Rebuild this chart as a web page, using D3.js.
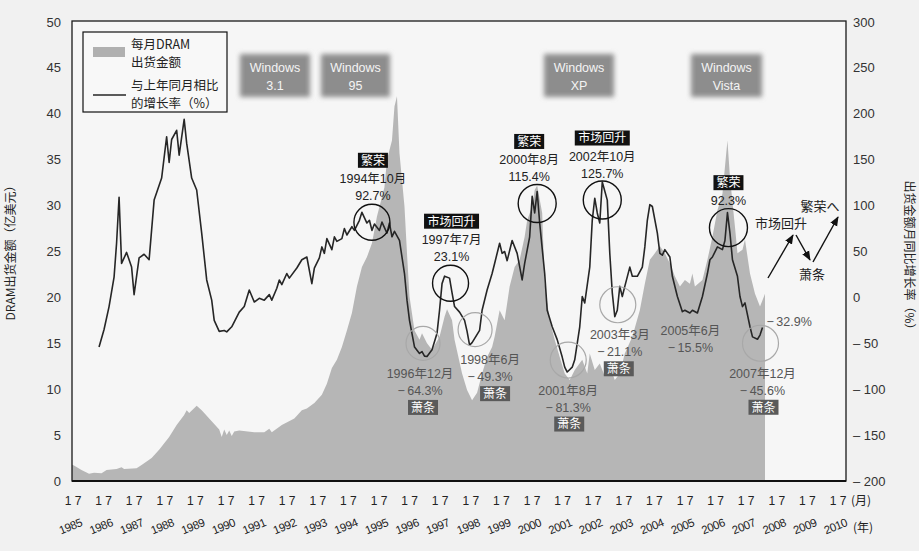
<!DOCTYPE html>
<html>
<head>
<meta charset="utf-8">
<script src="https://cdn.jsdelivr.net/npm/d3@7"></script>
<style>
  body { margin: 0; background: #f1f1f1; }
  svg text { font-family: "Liberation Sans", Arial, "Noto Sans CJK SC", sans-serif; fill: #222; }
  svg text.cjk { font-family: "Noto Sans CJK SC", "Liberation Sans", sans-serif; }
</style>
</head>
<body>
<svg id="chart" width="919" height="551"></svg>
<script>
// monthly DRAM shipments (100M USD)
var shipMonths = ['1985-01','1985-03','1985-06','1985-09','1985-11','1986-02','1986-04','1986-08','1986-10','1986-11',
  '1987-04','1987-06','1987-10','1988-01','1988-05','1988-08','1988-11','1988-12','1989-01','1989-04',
  '1989-06','1989-07','1989-10','1990-01','1990-02','1990-03','1990-04','1990-05','1990-06','1990-07',
  '1990-09','1991-03','1991-07','1991-09','1991-10','1992-02','1992-07','1992-10','1992-12','1993-03',
  '1993-06','1993-08','1993-10','1993-12','1994-02','1994-04','1994-06','1994-08','1994-10','1994-12',
  '1995-02','1995-04','1995-07','1995-08','1995-10','1995-11','1995-12','1996-01','1996-03','1996-04',
  '1996-05','1996-07','1996-09','1996-10','1996-12','1997-02','1997-05','1997-07','1997-08','1997-10',
  '1997-11','1998-02','1998-04','1998-06','1998-08','1998-10','1998-12','1999-02','1999-03','1999-05',
  '1999-07','1999-09','1999-11','2000-01','2000-03','2000-04','2000-06','2000-07','2000-08','2000-10',
  '2000-11','2001-01','2001-03','2001-05','2001-07','2001-09','2001-11','2002-02','2002-04','2002-05',
  '2002-07','2002-09','2002-11','2003-01','2003-03','2003-05','2003-07','2003-10','2004-01','2004-03',
  '2004-05','2004-07','2004-09','2004-11','2005-01','2005-03','2005-05','2005-07','2005-09','2005-10',
  '2005-11','2006-02','2006-04','2006-06','2006-08','2006-10','2006-11','2006-12','2007-01','2007-03',
  '2007-04','2007-06','2007-07','2007-09','2007-11','2008-01','2008-02','2008-03']
var shipValues = [1.9,1.7,1.2,0.8,0.9,0.85,1.2,1.3,1.5,1.3,
  1.4,1.75,2.5,3.4,4.8,6.1,7.2,7.7,7.4,8.2,
  7.7,7.4,6.5,5.6,4.8,5.6,5.0,5.5,4.9,5.4,
  5.5,5.3,5.3,5.7,5.3,6.1,6.8,7.7,7.9,8.5,
  9.4,10.6,12.3,13.2,14.6,16.4,18.3,21.2,23.3,24.4,
  25.9,28.8,32,35,37.1,40.8,41.9,35.7,29.9,24.8,
  20.1,16.4,15.4,16.1,15,14.3,15.7,17.9,18.7,17.5,
  15.4,11.7,9.9,8.8,9.6,11.7,13.5,14.6,15.7,18.6,
  17.5,21.2,23.3,24.1,26.6,28.4,29.9,31.7,32.2,29.2,
  21.5,17.5,15.4,13.5,11.7,11.0,12.1,13.2,11.7,13.9,
  12.1,12.8,11.4,12.5,11.0,11.7,13.9,15.7,18.6,21.5,
  24.1,24.8,25.6,24.8,23.7,22.3,21.2,21.9,21.5,22.6,
  21.2,21.9,24.1,26.6,29.5,31.3,34.2,37.1,33.1,27.7,
  24.8,25.2,26.3,22.6,20.4,19.0,19.7,20.4]

// year-on-year growth (%)
var growthMonths = ['1986-01','1986-03','1986-05','1986-07','1986-08','1986-09','1986-10','1986-12','1987-02','1987-03',
  '1987-05','1987-07','1987-09','1987-11','1988-02','1988-04','1988-05','1988-06','1988-08','1988-09',
  '1988-11','1988-12','1989-02','1989-04','1989-06','1989-08','1989-10','1989-11','1990-01','1990-03',
  '1990-04','1990-06','1990-09','1990-11','1991-01','1991-03','1991-05','1991-07','1991-09','1991-10',
  '1991-12','1992-01','1992-02','1992-04','1992-05','1992-08','1992-10','1992-12','1993-02','1993-03',
  '1993-05','1993-06','1993-07','1993-08','1993-10','1993-11','1993-12','1994-02','1994-03','1994-04',
  '1994-06','1994-07','1994-09','1994-10','1994-12','1995-01','1995-02','1995-03','1995-05','1995-06',
  '1995-08','1995-09','1995-10','1995-11','1996-01','1996-03','1996-04','1996-05','1996-07','1996-09',
  '1996-10','1996-11','1996-12','1997-02','1997-04','1997-05','1997-06','1997-07','1997-09','1997-10',
  '1997-11','1998-01','1998-03','1998-04','1998-05','1998-06','1998-09','1998-10','1998-12','1999-02',
  '1999-03','1999-05','1999-06','1999-07','1999-08','1999-10','1999-12','2000-02','2000-03','2000-05',
  '2000-06','2000-07','2000-08','2000-09','2000-11','2000-12','2001-02','2001-04','2001-06','2001-07',
  '2001-08','2001-10','2001-11','2002-01','2002-02','2002-03','2002-05','2002-06','2002-07','2002-08',
  '2002-09','2002-10','2002-12','2003-01','2003-02','2003-03','2003-04','2003-05','2003-06','2003-07',
  '2003-09','2003-10','2003-12','2004-02','2004-03','2004-04','2004-05','2004-06','2004-08','2004-09',
  '2004-10','2004-11','2005-01','2005-02','2005-04','2005-06','2005-07','2005-09','2005-10','2005-12',
  '2006-02','2006-04','2006-05','2006-06','2006-08','2006-10','2006-11','2006-12','2007-01','2007-02',
  '2007-04','2007-05','2007-06','2007-07','2007-09','2007-10','2007-12','2008-01','2008-02']
var growthValues = [-54,-35,-10,22,59,109,37,49,33,3,
  43,47,41,106,130,175,147,172,182,155,
  194,168,130,117,70,19,-3,-25,-37,-36,
  -37.6,-32,-16,-10,8,-5,-1,-3,3,-3,
  10,19,14,26,21,32,41,44,15,32,
  43,55,48,64,52,66,61,64,75,68,
  77,73,84,92.7,81,84,73,80,73,82,
  70,81,66,72,62,26,-3,-25,-54,-61,
  -59,-64,-64.3,-57,-39,-14,15,23.1,21,5,
  -10,-16,-25,-37,-52,-49.3,-36,-14,8,26,
  37,59,48,50,40,62,48,19,37,66,
  110,92,115.4,81,26,-14,-32,-46,-65,-76,
  -81.3,-76,-68,-32,1,-6,33,84,108,92,
  81,125.7,106,48,5,-21.1,-14,12,1,12,
  33,23,23,33,55,84,101,99,70,48,
  46,52,44,23,1,-15.5,-14,-17,-14,-17,
  1,26,41,44,55,52,62,92.3,70,41,
  23,1,-10,-6,-32,-43,-45.6,-41,-32.9]

var years = d3.range(1985, 2011)
var leftTicks = d3.range(0, 51, 5)
var rightTicks = d3.range(-200, 301, 50)

var peakNotes = [
  {m: '1994-10', v: 92.7, tag: '繁荣', date: true, dx: 10, dy: 10, r: 18, tx: 1},
  {m: '1997-07', v: 23.1, tag: '市场回升', date: true, dx: 6, dy: 7, r: 18, tx: 1},
  {m: '2000-08', v: 115.4, tag: '繁荣', date: true, dx: 0, dy: 12, r: 19, tx: -8},
  {m: '2002-10', v: 125.7, tag: '市场回升', date: true, dx: 0, dy: 18, r: 19, tx: 0},
  {m: '2006-12', v: 92.3, tag: '繁荣', date: false, dx: 1, dy: 15, r: 19, tx: 0}
]
var troughNotes = [
  {m: '1996-12', v: -64.3, dx: -4, dy: -13, r: 17, tx: -3, bx: 0},
  {m: '1998-06', v: -49.3, dx: 3, dy: -13, r: 17, tx: 15, bx: 20},
  {m: '2001-08', v: -81.3, dx: 1, dy: -12, r: 18, tx: 0, bx: 1},
  {m: '2003-03', v: -21.1, dx: 3, dy: -12, r: 18, tx: 2, bx: 1},
  {m: '2007-12', v: -45.6, dx: 3, dy: 4, r: 18, tx: 2, bx: 3}
]

function toYear(s) {
  var p = s.split('-')
  return +p[0] + (+p[1] - 1) / 12
}
function monthText(s) {
  var p = s.split('-')
  return p[0] + '年' + (+p[1]) + '月'
}
function pct(v) {
  return (v < 0 ? '\u2212\u2009' + (-v) : v) + '%'
}

var ship = shipMonths.map(function(m, i) { return {t: toYear(m), v: shipValues[i]} })
var growth = growthMonths.map(function(m, i) { return {t: toYear(m), v: growthValues[i]} })

var L = 72, R = 846, T = 21, B = 481

var x = d3.scaleLinear().domain([1985, 2008]).range([69, 760])
var yL = d3.scaleLinear().domain([0, 50]).range([B, 22])
var yR = d3.scaleLinear().domain([-200, 300]).range([B, 22])
var xLab = d3.scalePoint().domain(years).range([73, 838])

var svg = d3.select('#chart')
var defs = svg.append('defs')
defs.append('clipPath').attr('id', 'clip')
  .append('rect').attr('x', L).attr('y', T).attr('width', R - L).attr('height', B - T)
defs.append('filter').attr('id', 'blur').attr('x', '-20%').attr('y', '-30%').attr('width', '140%').attr('height', '160%')
  .append('feGaussianBlur').attr('stdDeviation', 2.5)
defs.append('marker').attr('id', 'arrow').attr('viewBox', '0 0 10 10')
  .attr('refX', 9).attr('refY', 5).attr('markerWidth', 7).attr('markerHeight', 7)
  .attr('orient', 'auto-start-reverse')
  .append('path').attr('d', 'M0,1 L10,5 L0,9 Z').attr('fill', '#111')

svg.append('rect').attr('width', 919).attr('height', 551).attr('fill', '#f1f1f1')
svg.append('rect').attr('x', L).attr('y', T).attr('width', R - L).attr('height', B - T).attr('fill', '#f6f6f6')

var g = svg.append('g').attr('clip-path', 'url(#clip)')

// shipments area
g.append('path')
  .datum(ship)
  .attr('fill', '#b6b6b6')
  .attr('d', d3.area()
    .x(function(d) { return x(d.t) })
    .y0(yL(0))
    .y1(function(d) { return yL(d.v) }))

// windows release boxes
var winBoxes = [
  {name: '3.1', x0: 240, x1: 310},
  {name: '95', x0: 321, x1: 390},
  {name: 'XP', x0: 544, x1: 614},
  {name: 'Vista', x0: 691, x1: 762}
]
winBoxes.forEach(function(w) {
  svg.append('rect').attr('x', w.x0).attr('y', 54).attr('width', w.x1 - w.x0).attr('height', 43)
    .attr('fill', '#8d8d8d').attr('filter', 'url(#blur)')
  var cx = (w.x0 + w.x1) / 2
  svg.append('text').attr('x', cx).attr('y', 72).attr('text-anchor', 'middle')
    .style('font-size', '12.5px').style('fill', '#f4f4f4').text('Windows')
  svg.append('text').attr('x', cx).attr('y', 90).attr('text-anchor', 'middle')
    .style('font-size', '12.5px').style('fill', '#f4f4f4').text(w.name)
})

// growth line
g.append('path')
  .datum(growth)
  .attr('fill', 'none')
  .attr('stroke', '#262626')
  .attr('stroke-width', 1.6)
  .attr('stroke-linejoin', 'round')
  .attr('d', d3.line()
    .x(function(d) { return x(d.t) })
    .y(function(d) { return yR(d.v) }))

// frame
svg.append('rect').attr('x', L).attr('y', T).attr('width', R - L).attr('height', B - T)
  .attr('fill', 'none').attr('stroke', '#1a1a1a').attr('stroke-width', 1.3)
svg.append('line').attr('x1', L).attr('x2', R).attr('y1', B).attr('y2', B)
  .attr('stroke', '#111').attr('stroke-width', 2)

// left axis
svg.selectAll('.lt').data(leftTicks).enter().append('text')
  .attr('x', 61).attr('y', function(d) { return yL(d) })
  .attr('dy', '0.35em').attr('text-anchor', 'end')
  .style('font-size', '13px').style('fill', '#333')
  .text(function(d) { return d })

// right axis
svg.selectAll('.rt').data(rightTicks).enter().append('text')
  .attr('x', 853)
  .attr('y', function(d) { return yR(d) })
  .attr('dy', '0.35em')
  .style('font-size', '13px').style('fill', '#333')
  .text(function(d) { return d < 0 ? '\u2013 ' + (-d) : d })

// axis titles
svg.append('text').attr('class', 'cjk')
  .attr('transform', 'translate(15,250) rotate(-90)')
  .attr('text-anchor', 'middle').style('font-size', '12px')
  .text('DRAM出货金额（亿美元）')
svg.append('text').attr('class', 'cjk')
  .attr('transform', 'translate(905,258) rotate(90)')
  .attr('text-anchor', 'middle').style('font-size', '12px')
  .text('出货金额月同比增长率（%）')

// x labels
svg.selectAll('.mt').data(years).enter().append('text')
  .attr('x', function(d) { return xLab(d) })
  .attr('y', 505).attr('text-anchor', 'middle')
  .style('font-size', '12px').style('fill', '#222')
  .text('1 7')
svg.selectAll('.yt').data(years).enter().append('text')
  .attr('transform', function(d) { return 'translate(' + (xLab(d) - 1) + ',530) rotate(-22)' })
  .attr('text-anchor', 'middle')
  .style('font-size', '11.5px').style('fill', '#222')
  .style('letter-spacing', '-0.4px')
  .text(function(d) { return d })
svg.append('text').attr('class', 'cjk').attr('x', 851).attr('y', 505)
  .style('font-size', '12px').text('(月)')
svg.append('text').attr('class', 'cjk').attr('x', 853).attr('y', 532)
  .style('font-size', '12px').text('(年)')

// legend
svg.append('rect').attr('x', 83).attr('y', 32).attr('width', 144).attr('height', 80)
  .attr('fill', '#f8f8f8').attr('stroke', '#111').attr('stroke-width', 1.2)
svg.append('rect').attr('x', 93).attr('y', 47).attr('width', 32).attr('height', 10).attr('fill', '#b0b0b0')
svg.append('line').attr('x1', 93).attr('x2', 126).attr('y1', 95).attr('y2', 95)
  .attr('stroke', '#262626').attr('stroke-width', 1.6)
;[['每月DRAM', 49], ['出货金额', 67], ['与上年同月相比', 90], ['的增长率（%）', 108]].forEach(function(t) {
  svg.append('text').attr('class', 'cjk').attr('x', 131).attr('y', t[1])
    .style('font-size', '12.5px').text(t[0])
})

// tag box helper
function tagBox(cx, cy, label, bg) {
  var w = label.length * 12.5 + 5
  svg.append('rect').attr('x', cx - w / 2).attr('y', cy - 7.5).attr('width', w).attr('height', 15).attr('fill', bg)
  svg.append('text').attr('class', 'cjk').attr('x', cx).attr('y', cy).attr('dy', '0.36em')
    .attr('text-anchor', 'middle').style('font-size', '12px').style('fill', '#fff')
    .text(label)
}

// peak annotations
peakNotes.forEach(function(n) {
  var cx = x(toYear(n.m)) + n.dx, cy = yR(n.v) + n.dy
  svg.append('circle').attr('cx', cx).attr('cy', cy).attr('r', n.r)
    .attr('fill', 'none').attr('stroke', '#111').attr('stroke-width', 1.4)
  var tx = cx + n.tx
  if (n.date) {
    tagBox(tx, cy - 62, n.tag, '#111')
    svg.append('text').attr('x', tx).attr('y', cy - 44).attr('dy', '0.36em')
      .attr('text-anchor', 'middle').style('font-size', '12.5px').text(monthText(n.m))
    svg.append('text').attr('x', tx).attr('y', cy - 27).attr('dy', '0.36em')
      .attr('text-anchor', 'middle').style('font-size', '12.5px').text(pct(n.v))
  } else {
    tagBox(tx, cy - 45, n.tag, '#111')
    svg.append('text').attr('x', tx).attr('y', cy - 27).attr('dy', '0.36em')
      .attr('text-anchor', 'middle').style('font-size', '12.5px').text(pct(n.v))
  }
})

// trough annotations
troughNotes.forEach(function(n) {
  var cx = x(toYear(n.m)) + n.dx, cy = yR(n.v) + n.dy
  svg.append('circle').attr('cx', cx).attr('cy', cy).attr('r', n.r)
    .attr('fill', 'none').attr('stroke', '#a8a8a8').attr('stroke-width', 1.2)
  svg.append('text').attr('x', cx + n.tx).attr('y', cy + 30).attr('dy', '0.36em')
    .attr('text-anchor', 'middle').style('font-size', '12.5px').style('fill', '#555').text(monthText(n.m))
  svg.append('text').attr('x', cx + n.tx).attr('y', cy + 47).attr('dy', '0.36em')
    .attr('text-anchor', 'middle').style('font-size', '12.5px').style('fill', '#555').text(pct(n.v))
  tagBox(cx + n.bx, cy + 64, '萧条', '#5a5a5a')
})

// 2005-06 low, no circle
var low05 = {m: '2005-06', v: -15.5}
var lx = x(toYear(low05.m)) + 8, ly = yR(low05.v)
svg.append('text').attr('x', lx).attr('y', ly + 19).attr('dy', '0.36em')
  .attr('text-anchor', 'middle').style('font-size', '12.5px').style('fill', '#555').text(monthText(low05.m))
svg.append('text').attr('x', lx).attr('y', ly + 36).attr('dy', '0.36em')
  .attr('text-anchor', 'middle').style('font-size', '12.5px').style('fill', '#555').text(pct(low05.v))

// latest value
var last = growth[growth.length - 1]
svg.append('text').attr('x', x(last.t) + 4).attr('y', yR(last.v) - 6).attr('dy', '0.36em')
  .style('font-size', '12.5px').style('fill', '#555').text(pct(last.v))

// cycle sketch on the right
var sketch = [
  [[768, 278], [793, 235]],
  [[796, 235], [810, 260]],
  [[813, 262], [838, 217]]
]
sketch.forEach(function(s) {
  svg.append('line').attr('x1', s[0][0]).attr('y1', s[0][1]).attr('x2', s[1][0]).attr('y2', s[1][1])
    .attr('stroke', '#111').attr('stroke-width', 1.4).attr('marker-end', 'url(#arrow)')
})
svg.append('text').attr('class', 'cjk').attr('x', 781).attr('y', 223).attr('dy', '0.36em')
  .attr('text-anchor', 'middle').style('font-size', '13px').text('市场回升')
svg.append('text').attr('class', 'cjk').attr('x', 812).attr('y', 274).attr('dy', '0.36em')
  .attr('text-anchor', 'middle').style('font-size', '13px').text('萧条')
svg.append('text').attr('class', 'cjk').attr('x', 820).attr('y', 206).attr('dy', '0.36em')
  .attr('text-anchor', 'middle').style('font-size', '13px').text('繁荣へ')
</script>
</body>
</html>
